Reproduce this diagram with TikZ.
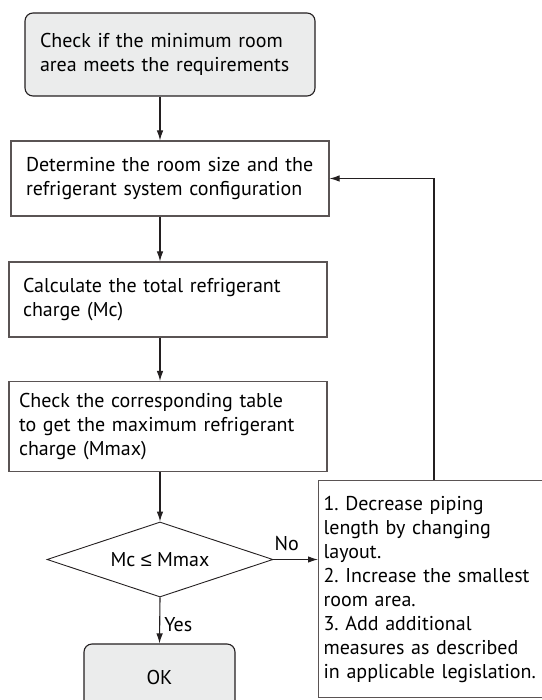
\documentclass[tikz,border=0pt]{standalone}
\usepackage{fontspec}
\setmainfont{PT Sans}
\newfontfamily\symfont{Liberation Sans}
\usepackage{tikz}
\usetikzlibrary{arrows.meta,shapes.geometric}
\definecolor{ink}{RGB}{35,31,32}
\definecolor{edgegray}{RGB}{90,84,84}
\definecolor{termfill}{RGB}{235,236,236}
\frenchspacing

\tikzset{
  stepbox/.style={draw=edgegray,rectangle,align=left,inner ysep=0pt,line width=1.1pt},
  termbox/.style={stepbox,draw=ink,rounded corners=8pt,fill=termfill},
  test/.style={draw=ink,diamond,aspect=3,inner sep=0pt,line width=0.9pt,
    minimum width=226pt,minimum height=75pt},
  flow/.style={draw=ink,line width=1.1pt,-{Latex[length=10pt,width=6.5pt]}}
}

\begin{document}
\begin{tikzpicture}[x=1pt,y=-1pt,font=\fontsize{20}{24}\selectfont]
		\useasboundingbox (0,0) rectangle (541,700);
		\node[termbox,inner xsep=15pt,text width=260pt,minimum height=83pt] (start) at (170,54.5)
		{Check if the minimum room\\area meets the requirements};
		\node[stepbox,inner xsep=15pt,text width=288pt,minimum height=75pt] (size) at (170,178.5)
		{Determine the room size and the\\refrigerant system configuration};
		\node[stepbox,inner xsep=14pt,text width=290pt,minimum height=75pt] (charge) at (168,299.5)
		{Calculate the total refrigerant\\charge (Mc)};
		\node[stepbox,inner xsep=10pt,text width=298pt,minimum height=90pt] (table) at (168,426.5)
		{Check the corresponding table\\to get the maximum refrigerant\\charge (Mmax)};
		\node[test] (check) at (160,559.5) {Mc {\symfont ≤} Mmax};
		\node[termbox,inner xsep=0pt,align=center,minimum width=151pt,minimum height=66pt] (ok) at (159.5,677) {OK};
		\node[stepbox,anchor=north west,inner xsep=5pt,text width=220pt,minimum height=217pt] (fix) at (318,480)
		{1. Decrease piping\\length by changing\\layout.\\2. Increase the smallest\\room area.\\3. Add additional\\measures as described\\in applicable legislation.};
		\coordinate (axis) at (160,0);
		\coordinate (back) at (434,178.5);
		\path
		(start.south -| axis) edge[flow] (size.north -| axis)
		(size.south -| axis) edge[flow] (charge.north -| axis)
		(charge.south -| axis) edge[flow] (table.north -| axis)
		(table.south -| axis) edge[flow] (check.north)
		(check.south) edge[flow] node[right,inner sep=4pt,pos=0.6] (yes) {Yes} (ok.north)
		(check.east) edge[flow] node[above,inner sep=8pt,pos=0.3] (no) {No} (fix.west |- check.east)
		;
		\draw[flow] (fix.north -| back) -- (back) -- (size.east);
	\end{tikzpicture}
\end{document}
